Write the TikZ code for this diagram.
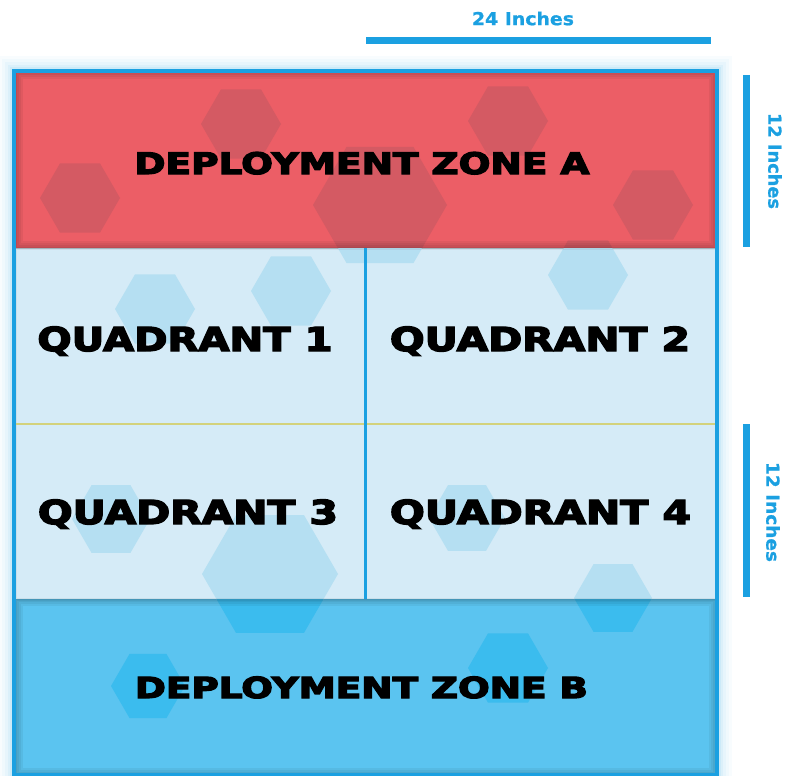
\documentclass[tikz,border=0pt]{standalone}
\usepackage{fontspec}
\setmainfont{DejaVu Sans}
\newfontfamily\heavyfont[FakeBold=4]{DejaVu Sans Bold}
\newfontfamily\semifont[FakeBold=1]{DejaVu Sans Bold}
\usepackage{graphicx}
\definecolor{zonered}{HTML}{EC5E66}
\definecolor{hexred}{HTML}{D45A63}
\definecolor{quadblue}{HTML}{D5EBF7}
\definecolor{hexquad}{HTML}{B5DFF2}
\definecolor{zoneblue}{HTML}{5BC4F0}
\definecolor{hexblue}{HTML}{3BBCEE}
\definecolor{rimblue}{HTML}{1BA0E1}
\definecolor{midline}{HTML}{D3D27C}
\def\hexlist{241/124/40, 508/121/40, 80/198/40, 380/205/67, 653/205/40, 155/309/40, 291/291/40, 588/275/40, 111/519/39, 270/574/68, 467/518/38, 613/598/39, 148/686/37, 508/668/40}
\tikzset{
  area/.style={inner sep=0pt, outer sep=0pt, minimum width=700.5pt},
  biglabel/.style={inner sep=0pt, outer sep=0pt, anchor=base, text=black, font=\heavyfont},
  measure/.style={rimblue, line width=7.5pt, line cap=butt},
  measurelabel/.style={inner sep=0pt, outer sep=0pt, text=rimblue, font=\semifont},
  shade/.style={black, opacity=0.05}
}
\begin{document}
\begin{tikzpicture}[x=1pt, y=-1pt]
\useasboundingbox (0,0) rectangle (785,776);
% glow around the board
\foreach \w/\o in {30/0.03, 24/0.035, 18/0.045, 12/0.06, 8/0.08} {
  \draw[rimblue, opacity=\o, line width=\w pt] (14,71) rectangle (717,775);
}
% zones
\node[area, fill=zonered, minimum height=176pt] (zoneA) at (365.75,160) {};
\node[area, fill=quadblue, minimum height=351pt] (quads) at (365.75,423.5) {};
\node[area, fill=zoneblue, minimum height=176pt] (zoneB) at (365.75,687) {};
% hexagons and inner shading per zone
\foreach \z/\c/\n in {zoneA/hexred/4, quads/hexquad/1, zoneB/hexblue/4} {
  \begin{scope}
    \clip (\z.north west) rectangle (\z.south east);
    \fill[\c] \foreach \cx/\cy/\r in \hexlist {
      (\cx,\cy) ++(\r,0) -- ++(120:\r) -- ++(180:\r) -- ++(240:\r) -- ++(300:\r) -- ++(0:\r) -- cycle
    };
    \foreach \w [count=\i] in {3,6,10,14} {
      \ifnum\i>\n\else
      \draw[shade, line width=\w pt] (\z.north west) rectangle (\z.south east);
      \fi
    }
  \end{scope}
}
% quadrant dividers
\draw[midline, line width=2pt] (quads.west) -- (quads.east);
\draw[rimblue, line width=3pt] (quads.north) -- (quads.south);
% board rim
\draw[rimblue, line width=3.5pt] (14,71) rectangle (717,775);
% labels
\node[biglabel] (labA) at (362,174) {\resizebox{455pt}{22pt}{DEPLOYMENT ZONE A}};
\node[biglabel] (labQ1) at (185,351) {\resizebox{295pt}{24.5pt}{QUADRANT 1}};
\node[biglabel] (labQ2) at (540,351) {\resizebox{300pt}{24.5pt}{QUADRANT 2}};
\node[biglabel] (labQ3) at (188,524) {\resizebox{300pt}{24.5pt}{QUADRANT 3}};
\node[biglabel] (labQ4) at (540.5,524) {\resizebox{301pt}{24.5pt}{QUADRANT 4}};
\node[biglabel] (labB) at (361.5,698) {\resizebox{453pt}{21.5pt}{DEPLOYMENT ZONE B}};
% measurements
\coordinate (topL) at (366,40.5);
\coordinate (topR) at (711,40.5);
\coordinate (r1T) at (746.5,75);
\coordinate (r1B) at (746.5,247);
\coordinate (r2T) at (746.5,424);
\coordinate (r2B) at (746.5,597);
\draw[measure] (topL) -- (topR);
\draw[measure] (r1T) -- (r1B);
\draw[measure] (r2T) -- (r2B);
\node[measurelabel] (m24) at (523,18.5) {\resizebox{102pt}{13.5pt}{24 Inches}};
\node[measurelabel, rotate=-90] (m12a) at (775,161) {\resizebox{96pt}{13.5pt}{12 Inches}};
\node[measurelabel, rotate=-90] (m12b) at (773,512) {\resizebox{100pt}{13.5pt}{12 Inches}};
\end{tikzpicture}
\end{document}
